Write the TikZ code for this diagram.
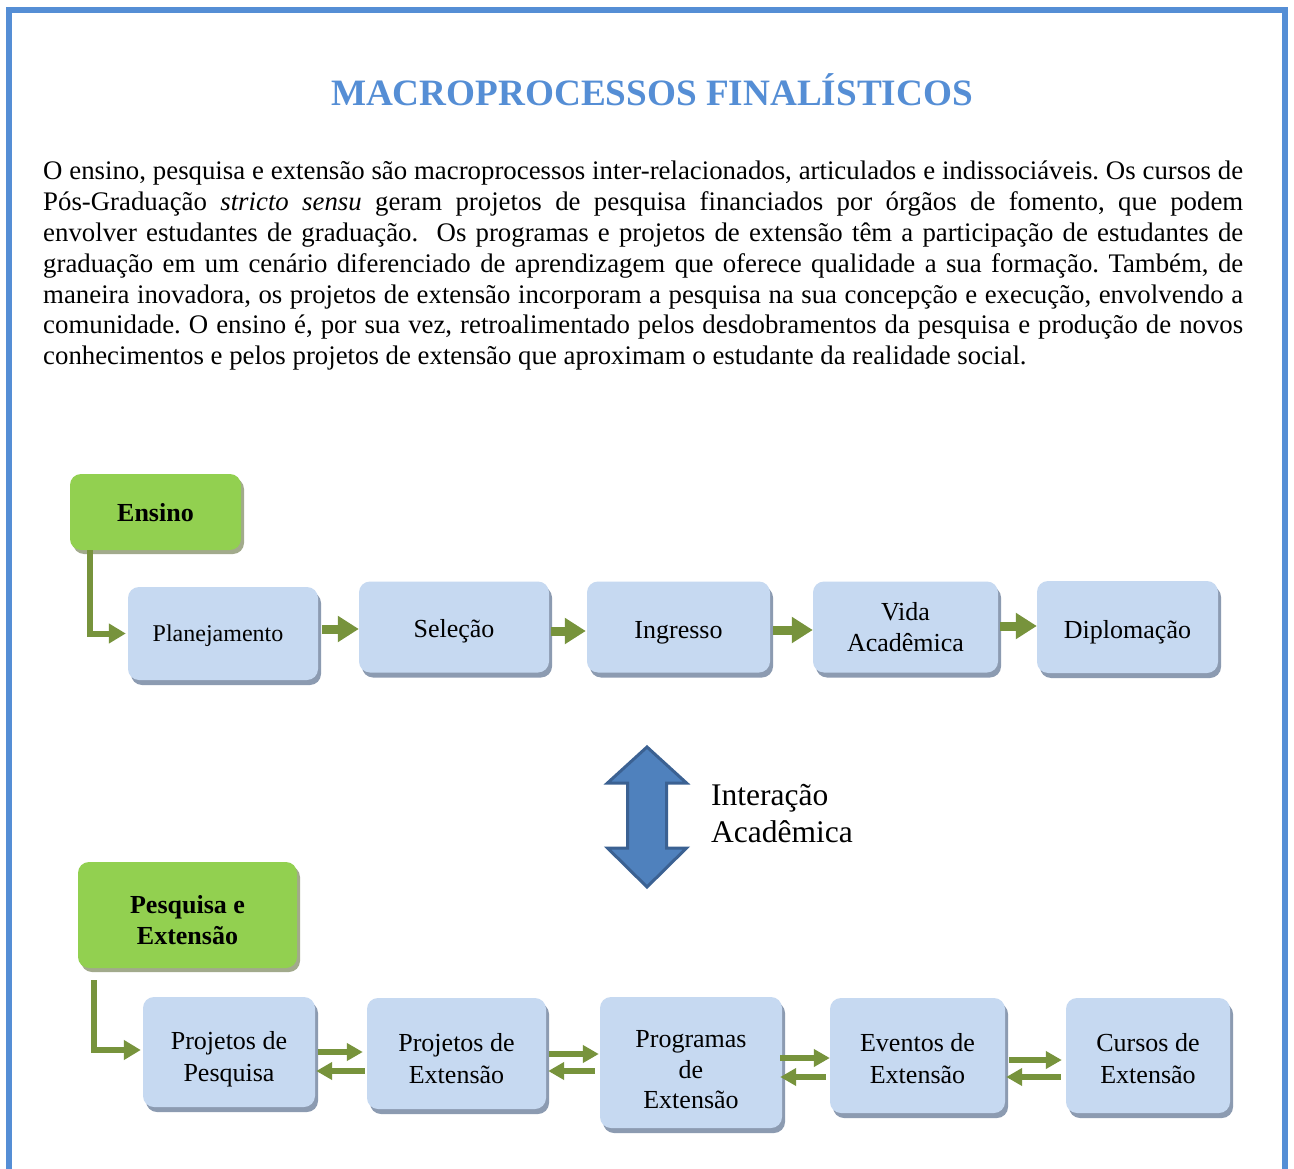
\documentclass[tikz,border=0pt]{standalone}
\usepackage{fontspec}
\setmainfont{Liberation Serif}
\usetikzlibrary{arrows.meta,shadows,calc}
\definecolor{frameblue}{HTML}{558ED5}
\definecolor{boxblue}{HTML}{C6D9F1}
\definecolor{boxshadow}{HTML}{8C9BB1}
\definecolor{boxgreen}{HTML}{92D050}
\definecolor{greenshadow}{HTML}{A2AA8C}
\definecolor{arrowgreen}{HTML}{77933C}
\definecolor{bigarrow}{HTML}{4F81BD}
\definecolor{bigarrowline}{HTML}{3B6192}
\newlength\mylen
\newcommand\lowr[1]{\rule{0pt}{#1}}
\AtBeginDocument{%
\frenchspacing
\settowidth\mylen{\fontsize{10}{12}\rmfamily\bfseries\selectfont MACROPROCESSOS FINALÍSTICOS}%
\pgfmathsetmacro\titlefs{10*642/\mylen}%
\settowidth\mylen{\fontsize{10}{12}\rmfamily\selectfont O ensino, pesquisa e extensão são macroprocessos inter-relacionados, articulados e indissociáveis. Os cursos de}%
\pgfmathsetmacro\wa{\mylen}%
\settowidth\mylen{\fontsize{10}{12}\rmfamily\selectfont maneira inovadora, os projetos de extensão incorporam a pesquisa na sua concepção e execução, envolvendo a}%
\pgfmathsetmacro\wb{\mylen}%
\settowidth\mylen{\fontsize{10}{12}\rmfamily\selectfont comunidade. O ensino é, por sua vez, retroalimentado pelos desdobramentos da pesquisa e produção de novos}%
\pgfmathsetmacro\wc{\mylen}%
\pgfmathsetmacro\parfs{10*1198/max(\wa,\wb,\wc)}%
}
\begin{document}
\begin{tikzpicture}[x=1pt,y=-1pt,
  procbox/.style={rectangle, rounded corners=11pt, fill=boxblue, align=center,
    inner sep=0pt, font=\fontsize{26}{32}\selectfont,
    general shadow={fill=boxshadow, shadow xshift=3pt, shadow yshift=-5pt}},
  headbox/.style={rectangle, rounded corners=11pt, fill=boxgreen, align=center,
    inner sep=0pt, font=\fontsize{26}{31}\selectfont\bfseries,
    general shadow={fill=greenshadow, shadow xshift=3pt, shadow yshift=-4pt}},
  flowarrow/.style={draw=arrowgreen, line width=9pt, -{Triangle[length=21pt,width=25pt]}},
  pairarrow/.style={draw=arrowgreen, line width=6.5pt, -{Triangle[length=16pt,width=17pt]}},
  connarrow/.style={draw=arrowgreen, line width=6pt, -{Triangle[length=17pt,width=19pt]}},
  frameline/.style={draw=frameblue, line width=6pt},
]
\useasboundingbox (0,0) rectangle (1294,1169);
\clip (0,0) rectangle (1294,1169);
\fill[white] (0,0) rectangle (1294,1169);
% frame
\draw[frameline] (9,1180) -- (9,10) -- (1285,10) -- (1285,1180);

\node[anchor=base, inner sep=0pt, text=frameblue,
  font=\fontsize{\titlefs}{\titlefs}\selectfont\bfseries] (title) at (652,106)
  {MACROPROCESSOS FINALÍSTICOS};

\node[anchor=base west, inner sep=0pt] (para) at (43,180)
  {\parbox[t]{1200pt}{\fontsize{\parfs}{30.8}\selectfont
   \hyphenpenalty=10000 \exhyphenpenalty=10000 \parindent=0pt
   O ensino, pesquisa e extensão são macroprocessos inter-relacionados, articulados e indissociáveis. Os cursos de\linebreak
   Pós-Graduação \textit{stricto sensu} geram projetos de pesquisa financiados por órgãos de fomento, que podem\linebreak
   envolver estudantes de graduação.\ \ Os programas e projetos de extensão têm a participação de estudantes de\linebreak
   graduação em um cenário diferenciado de aprendizagem que oferece qualidade a sua formação. Também, de\linebreak
   maneira inovadora, os projetos de extensão incorporam a pesquisa na sua concepção e execução, envolvendo a\linebreak
   comunidade. O ensino é, por sua vez, retroalimentado pelos desdobramentos da pesquisa e produção de novos\linebreak
   conhecimentos e pelos projetos de extensão que aproximam o estudante da realidade social.}};

% Ensino row
\node[headbox, minimum width=171pt, minimum height=76pt] (ensino) at (155.5,512) {\lowr{20pt}Ensino};
\node[procbox, minimum width=190pt, minimum height=93pt, font=\fontsize{24}{29}\selectfont] (plan) at (223,633.5) {\lowr{20.5pt}Planejamento\hspace*{10pt}};
\node[procbox, minimum width=190pt, minimum height=91pt] (sel) at (454,627) {\lowr{27.5pt}Seleção};
\node[procbox, minimum width=183pt, minimum height=91pt] (ing) at (678.5,627) {\lowr{29.5pt}Ingresso};
\node[procbox, minimum width=185pt, minimum height=91pt, font=\fontsize{26}{31}\selectfont] (vida) at (905.5,627) {Vida\\Acadêmica};
\node[procbox, minimum width=181pt, minimum height=92pt] (dipl) at (1127.5,627) {\lowr{29.5pt}Diplomação};

\draw[connarrow] ([xshift=-65.5pt]ensino.south) |- ([xshift=-2pt]plan.west);
\draw[flowarrow] ([xshift=4pt]plan.east |- 0,629) -- (sel.west |- 0,629);
\draw[flowarrow] ([xshift=2pt]sel.east |- 0,631) -- ([xshift=-1pt]ing.west |- 0,631);
\draw[flowarrow] ([xshift=3pt]ing.east |- 0,630) -- (vida.west |- 0,630);
\draw[flowarrow] ([xshift=2pt]vida.east |- 0,626) -- (dipl.west |- 0,626);

% interaction arrow
\draw[fill=bigarrow, draw=bigarrowline, line width=3pt, line join=miter]
  (647,747) -- (686.5,783) -- (666.5,783) -- (666.5,848) -- (686.5,848) -- (647,887)
  -- (607.5,848) -- (627.5,848) -- (627.5,783) -- (607.5,783) -- cycle;
\node[anchor=west, inner sep=0pt, align=left, font=\fontsize{31.5}{37}\selectfont] (inter) at (711,814)
  {Interação\\Acadêmica};

% Pesquisa e Extensao row
\node[headbox, minimum width=219pt, minimum height=106pt] (pe) at (187.5,915) {\lowr{27.5pt}Pesquisa e\\Extensão};
\node[procbox, minimum width=172pt, minimum height=110pt] (pp) at (229,1052) {\lowr{32pt}Projetos de\\Pesquisa};
\node[procbox, minimum width=179pt, minimum height=111pt] (pex) at (456.5,1053.5) {\lowr{27.5pt}Projetos de\\Extensão};
\node[procbox, minimum width=182pt, minimum height=131pt, font=\fontsize{26}{30.5}\selectfont] (prog) at (691,1062.5) {\lowr{31.5pt}Programas\\de\\Extensão};
\node[procbox, minimum width=175pt, minimum height=115pt] (ev) at (917.5,1055.5) {\lowr{24.5pt}Eventos de\\Extensão};
\node[procbox, minimum width=164pt, minimum height=115pt] (cur) at (1148,1055.5) {\lowr{24.5pt}Cursos de\\Extensão};

\draw[connarrow, shorten <=12pt] ([xshift=-93.5pt]pe.south) |- ([xshift=-2pt]pp.west |- 0,1050);

\draw[pairarrow] ([xshift=3pt]pp.east |- 0,1052) -- ([xshift=-4pt]pex.west |- 0,1052);
\draw[pairarrow] ([xshift=-2pt]pex.west |- 0,1071) -- ([xshift=1pt]pp.east |- 0,1071);
\draw[pairarrow] ([xshift=3pt]pex.east |- 0,1054) -- ([xshift=-1pt]prog.west |- 0,1054);
\draw[pairarrow] ([xshift=-5pt]prog.west |- 0,1071) -- ([xshift=2pt]pex.east |- 0,1071);
\draw[pairarrow] ([xshift=-2pt]prog.east |- 0,1058) -- (ev.west |- 0,1058);
\draw[pairarrow] ([xshift=-4pt]ev.west |- 0,1077) -- ([xshift=-2pt]prog.east |- 0,1077);
\draw[pairarrow] ([xshift=4pt]ev.east |- 0,1060) -- ([xshift=-4pt]cur.west |- 0,1060);
\draw[pairarrow] ([xshift=-5pt]cur.west |- 0,1077) -- ([xshift=1pt]ev.east |- 0,1077);
\end{tikzpicture}
\end{document}
